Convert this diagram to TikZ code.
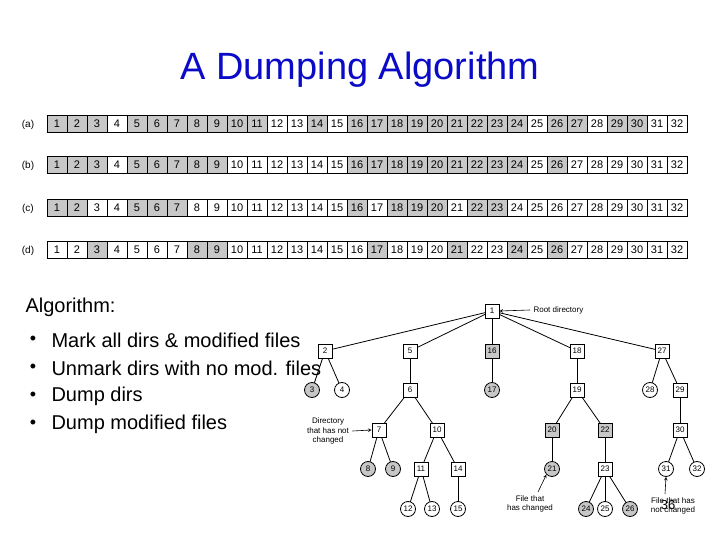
\documentclass[tikz,border=0pt]{standalone}
\usepackage{fontspec}
\setmainfont{Liberation Sans}
\begin{document}
\begin{tikzpicture}[x=1pt,y=-1pt,
  cell/.style={draw,line width=1pt,minimum width=20pt,minimum height=17pt,inner sep=0pt,font=\fontsize{11}{11}\selectfont},
  dir/.style={draw,line width=0.8pt,minimum size=14pt,inner sep=0pt,font=\fontsize{8}{8}\selectfont,fill=white},
  fil/.style={circle,draw,line width=0.8pt,minimum size=15pt,inner sep=0pt,font=\fontsize{8}{8}\selectfont,fill=white},
  g/.style={fill=black!22},
  note/.style={font=\fontsize{8}{9.5}\selectfont,align=center},
  edge/.style={line width=0.8pt},
  arr/.style={->,>=stealth,line width=0.6pt}]
\useasboundingbox (0,0) rectangle (720,540);
\node (title) at (360,70) {\fontsize{38}{38}\selectfont\color[RGB]{10,10,200}A Dumping Algorithm};
% rows
\foreach \lab/\yy/\gl in {a/124/{1,2,3,5,6,7,8,9,10,11,14,16,17,18,19,20,21,22,23,24,26,27,29,30},
  b/165/{1,2,3,5,6,7,8,9,16,17,18,19,20,21,22,23,24,26},
  c/208/{1,2,5,6,7,16,18,19,20,22,23},
  d/250/{3,8,9,17,21,24,26}}{
  \node[font=\fontsize{10}{10}\selectfont,anchor=base] (lab\lab) at (28,\yy+3.5) {(\lab)};
  \foreach \i in {1,...,32}{
    \def\isg{0}
    \foreach \j in \gl {\ifnum\i=\j\relax\global\def\isg{1}\fi}
    \ifnum\isg=1
      \node[cell,g] (c\lab\i) at (37+20*\i,\yy) {\i};
    \else
      \node[cell] (c\lab\i) at (37+20*\i,\yy) {\i};
    \fi
    \global\def\isg{0}
  }
}
% bullets
\node[anchor=west,font=\fontsize{20}{20}\selectfont] (alg) at (22,307) {Algorithm:};
\foreach \t [count=\k] in {Mark all dirs \& modified files,Unmark dirs with no mod. files,Dump dirs,Dump modified files}{
  \node[font=\fontsize{18}{18}\selectfont] (bul\k) at (33,312+28*\k) {•};
  \node[anchor=west,font=\fontsize{20}{20}\selectfont] (b\k) at (48,312+28*\k) {\t};
}
% tree edges
\coordinate (p1) at (492,311); \coordinate (p2) at (325,351); \coordinate (p5) at (410,351);
\coordinate (p16) at (492,351); \coordinate (p18) at (577,351); \coordinate (p27) at (662,351);
\coordinate (p3) at (312,390); \coordinate (p4) at (342,390); \coordinate (p6) at (410,390);
\coordinate (p17) at (492,390); \coordinate (p19) at (577,390); \coordinate (p28) at (650,390);
\coordinate (p29) at (680,390); \coordinate (p7) at (379,430); \coordinate (p10) at (437,430);
\coordinate (p20) at (552,430); \coordinate (p22) at (605,430); \coordinate (p30) at (680,430);
\coordinate (p8) at (368,469); \coordinate (p9) at (393,469); \coordinate (p11) at (421,469);
\coordinate (p14) at (458,469); \coordinate (p21) at (552,469); \coordinate (p23) at (605,469);
\coordinate (p31) at (666,469); \coordinate (p32) at (697,469); \coordinate (p12) at (408,509);
\coordinate (p13) at (432,509); \coordinate (p15) at (458,509); \coordinate (p24) at (586,509);
\coordinate (p25) at (605,509); \coordinate (p26) at (630,509);
\foreach \a/\b in {1/2,1/5,1/16,1/18,1/27,2/3,2/4,5/6,16/17,18/19,27/28,27/29,6/7,6/10,19/20,19/22,29/30,7/8,7/9,10/11,10/14,20/21,22/23,30/31,30/32,11/12,11/13,14/15,23/24,23/25,23/26}
  \draw[edge] (p\a) -- (p\b);
% dirs
\foreach \n in {1,2,5,18,27,6,19,29,7,10,30,11,23,14} \node[dir] (n\n) at (p\n) {\n};
\foreach \n in {16,20,22} \node[dir,g] (n\n) at (p\n) {\n};
\foreach \n in {4,28,31,32,12,13,15,25} \node[fil] (n\n) at (p\n) {\n};
\foreach \n in {3,17,8,9,21,24,26} \node[fil,g] (n\n) at (p\n) {\n};
% notes
\node[note,anchor=west] (root) at (530,310) {Root directory};
\draw[arr] (root.west) -- (n1.east);
\node[note] (dnc) at (328,431) {Directory\\that has not\\changed};
\draw[arr] (dnc.east) -- (n7.west);
\node[note] (fc) at (530,504) {File that\\has changed};
\draw[arr] (fc.north) ++(8,0) -- (n21.south west);
\node[note] (fnc) at (673,506) {File that has\\not changed};
\draw[arr] (fnc.north) ++(-8,0) -- (n31.south);
\node[font=\fontsize{13}{13}\selectfont] (pg) at (668,505) {36};
\end{tikzpicture}
\end{document}
